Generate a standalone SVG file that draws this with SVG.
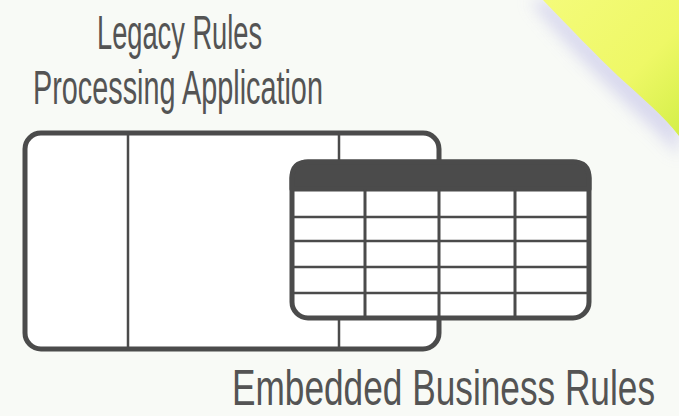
<svg xmlns="http://www.w3.org/2000/svg" width="679" height="416" viewBox="0 0 679 416">
  <defs>
    <filter id="blur" x="-20%" y="-20%" width="140%" height="140%">
      <feGaussianBlur stdDeviation="8"/>
    </filter>
    <linearGradient id="yel" x1="0" y1="0" x2="1" y2="1">
      <stop offset="0" stop-color="#f4fb7a"/>
      <stop offset="0.6" stop-color="#eef866"/>
      <stop offset="1" stop-color="#d4ef48"/>
    </linearGradient>
    <style>
      .lbl { font-family: "Liberation Sans", Arial, sans-serif; font-size: 49px; fill: #545454; }
      .box { fill: #ffffff; stroke: #4b4b4b; stroke-width: 5; }
      .thin { stroke: #4b4b4b; stroke-width: 2.5; fill: none; }
      .col { stroke: #4b4b4b; stroke-width: 3; fill: none; }
    </style>
  </defs>
  <rect width="679" height="416" fill="#f8faf6"/>
  <g id="swoosh">
    <path d="M530,0 C560,38 590,68 612,90 C635,113 660,133 679,156 L679,122 C660,100 640,82 618,64 C595,44 572,22 550,0 Z" fill="#d2d1ec" filter="url(#blur)" opacity="0.85"/>
    <path d="M543,0 C570,28 596,55 618,76 C642,98 664,116 679,136 L679,0 Z" fill="url(#yel)"/>
  </g>
  <g id="legacy-app">
    <rect class="box" x="25" y="133" width="414" height="216" rx="16"/>
    <line class="thin" x1="128" y1="135" x2="128" y2="347"/>
    <line class="thin" x1="339" y1="135" x2="339" y2="347"/>
    <text class="lbl" transform="translate(97,49) scale(0.556,1)" x="0" y="0" textLength="296.8" lengthAdjust="spacingAndGlyphs">Legacy Rules</text>
    <text class="lbl" transform="translate(33,104) scale(0.585,1)" x="0" y="0" textLength="495.6" lengthAdjust="spacingAndGlyphs">Processing Application</text>
  </g>
  <g id="embedded-rules">
    <rect class="box" x="292" y="162" width="297" height="156" rx="16"/>
    <path d="M292,189 V178 Q292,162 308,162 H573 Q589,162 589,178 V189 Z" fill="#4b4b4b" stroke="#4b4b4b" stroke-width="5" stroke-linejoin="round"/>
    <line class="col" x1="365" y1="189" x2="365" y2="318"/>
    <line class="col" x1="439" y1="189" x2="439" y2="318"/>
    <line class="col" x1="515" y1="189" x2="515" y2="318"/>
    <line class="thin" x1="292" y1="217" x2="589" y2="217"/>
    <line class="thin" x1="292" y1="241" x2="589" y2="241"/>
    <line class="thin" x1="292" y1="267" x2="589" y2="267"/>
    <line class="thin" x1="292" y1="293" x2="589" y2="293"/>
    <text class="lbl" transform="translate(232,405) scale(0.7047,1)" x="0" y="0" style="font-size:50px" textLength="600.25" lengthAdjust="spacingAndGlyphs">Embedded Business Rules</text>
  </g>
  <g id="connectors"/>
</svg>
